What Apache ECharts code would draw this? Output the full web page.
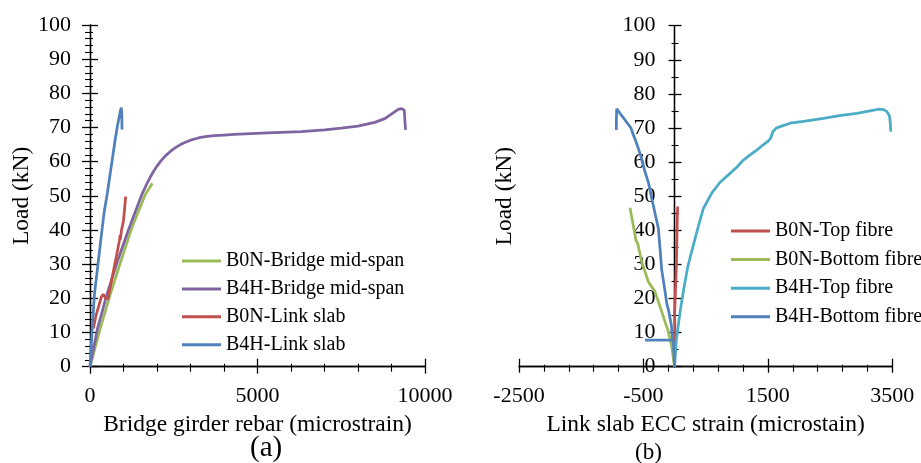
<!DOCTYPE html>
<html>
<head>
<meta charset="utf-8">
<script src="https://cdn.jsdelivr.net/npm/echarts@6/dist/echarts.min.js"></script>
<style>
html,body{margin:0;padding:0;background:#fff;}
#chart{width:921px;height:463px;}
</style>
</head>
<body>
<div id="chart"></div>
<script>
// ---------- Data (a): Bridge girder rebar strain (microstrain) vs Load (kN) ----------
const namesA = ['B0N-Bridge mid-span', 'B4H-Bridge mid-span', 'B0N-Link slab', 'B4H-Link slab'];
const b0nMidSpan = [[0,0],[300,11],[600,21],[915,30.7],[1245,40.5],[1640,50.2],[1860,53.7]];
const b4hMidSpan = [[0,0],[220,11],[500,21],[815,30.7],[1165,40.5],[1540,50.2],[1700,53.6],[1800,55.5],[1900,57.2],[2000,58.7],[2100,60],[2250,61.7],[2400,63],[2550,64.1],[2700,65],[2850,65.7],[3000,66.3],[3150,66.7],[3300,67.1],[3500,67.4],[3700,67.6],[4000,67.8],[4300,68],[5300,68.4],[6300,68.8],[7000,69.3],[7500,69.8],[8000,70.4],[8500,71.5],[8800,72.6],[9050,74.3],[9200,75.3],[9300,75.5],[9380,75.1],[9400,72],[9420,69.3]];
const b0nLinkSlab = [[100,11.2],[180,15],[269,18],[340,20.5],[398,21.2],[468,20],[537,19.8],[597,22.9],[716,28.8],[816,33.7],[880,37],[900,38.5],[905,37.2],[940,40],[995,42.4],[1030,46],[1065,49.8]];
const b4hLinkSlab = [[0,0],[30,5],[60,10],[100,16],[130,21],[190,26],[250,31],[310,36],[370,41],[420,45],[470,48],[520,51],[580,55],[640,59],[700,63],[760,67],[820,70.5],[870,73],[910,75],[935,75.8],[950,74],[955,69.4]];

// ---------- Data (b): Link slab ECC strain (microstrain) vs Load (kN) ----------
const namesB = ['B0N-Top fibre', 'B0N-Bottom fibre', 'B4H-Top fibre', 'B4H-Bottom fibre'];
const b0nTop = [[0,0],[-10,5],[8,10],[0,15],[10,20],[20,25],[30,30],[35,35],[40,40],[45,44],[50,47]];
const b0nBottom = [[0,0],[-45,5.9],[-100,10.3],[-200,15.8],[-314,22],[-421,24.9],[-528,30.8],[-590,36],[-620,37],[-635,38.6],[-680,43],[-716,46.6]];
const b4hTop = [[0,0],[30,8],[88,16],[150,23],[215,29.5],[300,35.5],[380,41],[463,46.4],[600,51],[732,54.1],[893,56.7],[1000,58.5],[1107,60.6],[1220,62.2],[1322,63.5],[1420,65],[1509,66.2],[1545,67],[1579,68.9],[1630,69.9],[1697,70.4],[1858,71.4],[2100,72],[2393,72.8],[2650,73.6],[2930,74.3],[3100,74.9],[3278,75.5],[3360,75.4],[3413,74.8],[3455,73.5],[3466,71.8],[3477,68.9]];
const b4hBottom = [[0,0],[-20,7.8],[-475,7.8],[-30,7.8],[-50,12],[-90,16],[-125,18.6],[-165,23.5],[-206,28.4],[-235,35],[-260,40.6],[-314,45],[-367,49.4],[-420,54],[-475,57.2],[-530,61],[-582,64],[-625,66.3],[-663,68],[-700,70],[-930,75.6],[-935,72],[-935,69.4]];

// ---------- Axis ranges / tick settings ----------
const axisA_x = {min: 0, max: 10000, interval: 5000, minorSplit: 5};
const axisA_y = {min: 0, max: 100, interval: 10, minorSplit: 5};
const axisB_x = {min: -2500, max: 3500, interval: 2000, minorSplit: 5};
const axisB_y = {min: 0, max: 100, interval: 10, minorSplit: 2};

const colorsA = ['#9BBB59', '#8064A2', '#C0504D', '#4F81BD'];
const colorsB = ['#C0504D', '#9BBB59', '#4BACC6', '#4F81BD'];

const FONT = "'Liberation Serif', 'Times New Roman', serif";
const black = '#000';

// layout of panel (b): y axis sits at strain = 0
const gridB = {left: 519, top: 25.7, width: 373.3, height: 341};
const yOffsetB = -(0 - axisB_x.min) / (axisB_x.max - axisB_x.min) * gridB.width;

function valAxis(r) {
  return {
    type: 'value', min: r.min, max: r.max, interval: r.interval,
    splitLine: {show: false},
    axisLine: {show: true, onZero: false, lineStyle: {color: black, width: 1.3}},
    axisTick: {show: true, lineStyle: {color: black, width: 1.3}},
    minorTick: {show: true, splitNumber: r.minorSplit, lineStyle: {color: black, width: 1.1}},
    axisLabel: {show: true, color: black, fontFamily: FONT, fontSize: 22, formatter: v => String(v)},
    nameTextStyle: {color: black, fontFamily: FONT, fontSize: 23.5}
  };
}
function merge(base, extra) {
  const o = Object.assign({}, base);
  for (const k in extra) {
    if (typeof extra[k] === 'object' && extra[k] !== null && !Array.isArray(extra[k]) && typeof o[k] === 'object') {
      o[k] = Object.assign({}, o[k], extra[k]);
    } else o[k] = extra[k];
  }
  return o;
}

const xAxes = [
  merge(valAxis(axisA_x), {gridIndex: 0, position: 'bottom', name: 'Bridge girder rebar (microstrain)', nameLocation: 'middle', nameGap: 36,
    axisTick: {inside: false, length: 7}, minorTick: {length: 5}, axisLabel: {margin: 19}}),
  merge(valAxis(axisA_x), {gridIndex: 0, position: 'bottom',
    axisTick: {inside: true, length: 8}, minorTick: {length: 3}, axisLabel: {show: false}}),
  merge(valAxis(axisB_x), {gridIndex: 1, position: 'bottom', name: 'Link slab ECC strain (microstain)', nameLocation: 'middle', nameGap: 36,
    axisTick: {inside: false, length: 6}, minorTick: {length: 5}, axisLabel: {margin: 19}}),
  merge(valAxis(axisB_x), {gridIndex: 1, position: 'bottom',
    axisTick: {inside: true, length: 8}, minorTick: {length: 2}, axisLabel: {show: false}})
];
const yAxes = [
  merge(valAxis(axisA_y), {gridIndex: 0, position: 'left', name: 'Load (kN)', nameLocation: 'middle', nameGap: 56,
    axisTick: {inside: false, length: 8}, minorTick: {length: 5}, axisLabel: {margin: 19}}),
  merge(valAxis(axisA_y), {gridIndex: 0, position: 'left',
    axisTick: {inside: true, length: 8}, minorTick: {length: 3}, axisLabel: {show: false}}),
  merge(valAxis(axisB_y), {gridIndex: 1, position: 'left', offset: yOffsetB, name: 'Load (kN)', nameLocation: 'middle', nameGap: 158,
    axisTick: {inside: false, length: 6}, minorTick: {length: 3}, axisLabel: {margin: 19}}),
  merge(valAxis(axisB_y), {gridIndex: 1, position: 'left', offset: yOffsetB,
    axisTick: {inside: true, length: 7}, minorTick: {length: 4}, axisLabel: {show: false}})
];

const dataA = [b0nMidSpan, b4hMidSpan, b0nLinkSlab, b4hLinkSlab];
const dataB = [b0nTop, b0nBottom, b4hTop, b4hBottom];
const series = [];
namesA.forEach((n, i) => series.push({
  name: n, type: 'line', xAxisIndex: 0, yAxisIndex: 0, data: dataA[i],
  showSymbol: false, symbol: 'none', color: colorsA[i], lineStyle: {width: 2.75, color: colorsA[i]}
}));
namesB.forEach((n, i) => series.push({
  name: n, type: 'line', xAxisIndex: 2, yAxisIndex: 2, data: dataB[i],
  showSymbol: false, symbol: 'none', color: colorsB[i], lineStyle: {width: 2.75, color: colorsB[i]}
}));

const legendBase = {
  orient: 'vertical', icon: 'rect', itemWidth: 39, itemHeight: 3, padding: 0,
  textStyle: {color: black, fontFamily: FONT, fontSize: 20, lineHeight: 20},
  selectedMode: false
};

const option = {
  animation: false,
  backgroundColor: '#fff',
  grid: [
    {left: 90, top: 25, width: 335, height: 341.7, containLabel: false},
    Object.assign({containLabel: false}, gridB)
  ],
  xAxis: xAxes,
  yAxis: yAxes,
  legend: [
    Object.assign({}, legendBase, {data: namesA, left: 182, top: 251, itemGap: 7.9}),
    Object.assign({}, legendBase, {data: namesB, left: 731, top: 221, itemGap: 8.6})
  ],
  graphic: [
    {type: 'text', left: 267 - 17, top: 434, style: {text: '(a)', fontFamily: FONT, fontSize: 29, fill: black}},
    {type: 'text', left: 648 - 13, top: 441, style: {text: '(b)', fontFamily: FONT, fontSize: 23, fill: black}}
  ],
  series: series
};

const chart = echarts.init(document.getElementById('chart'), null, {renderer: 'canvas'});
chart.setOption(option);
</script>
</body>
</html>
